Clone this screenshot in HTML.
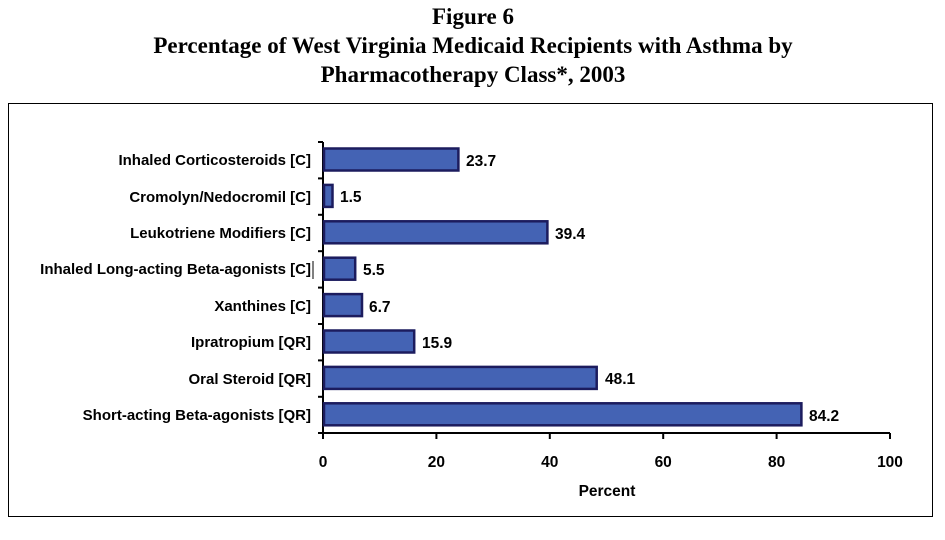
<!DOCTYPE html>
<html><head><style>
body{margin:0;background:#fff;}
</style></head><body>
<svg width="945" height="535" xmlns="http://www.w3.org/2000/svg">
<rect width="945" height="535" fill="#fff"/>
<g font-family="Liberation Serif, serif" font-weight="bold" font-size="23" text-anchor="middle" fill="#000">
<text x="473" y="24">Figure 6</text>
<text x="473" y="53">Percentage of West Virginia Medicaid Recipients with Asthma by</text>
<text x="473" y="82">Pharmacotherapy Class*, 2003</text>
</g>
<rect x="8.5" y="103.5" width="924" height="413" fill="none" stroke="#000" stroke-width="1"/>
<g stroke="#000" stroke-width="2">
<line x1="323" y1="142" x2="323" y2="434"/>
<line x1="322" y1="433" x2="890" y2="433"/>
<line x1="318" y1="142" x2="323" y2="142"/>
<line x1="318" y1="178.4" x2="323" y2="178.4"/>
<line x1="318" y1="214.8" x2="323" y2="214.8"/>
<line x1="318" y1="251.2" x2="323" y2="251.2"/>
<line x1="318" y1="287.6" x2="323" y2="287.6"/>
<line x1="318" y1="324" x2="323" y2="324"/>
<line x1="318" y1="360.4" x2="323" y2="360.4"/>
<line x1="318" y1="396.8" x2="323" y2="396.8"/>
<line x1="318" y1="433" x2="323" y2="433"/>
<line x1="323" y1="433" x2="323" y2="439"/>
<line x1="436.4" y1="433" x2="436.4" y2="439"/>
<line x1="549.8" y1="433" x2="549.8" y2="439"/>
<line x1="663.2" y1="433" x2="663.2" y2="439"/>
<line x1="776.6" y1="433" x2="776.6" y2="439"/>
<line x1="890" y1="433" x2="890" y2="439"/>
</g>
<g fill="#4463b4" stroke="#1c1c5e" stroke-width="2.5">
<rect x="324" y="148.5" width="134.4" height="22"/>
<rect x="324" y="184.9" width="8.5" height="22"/>
<rect x="324" y="221.3" width="223.4" height="22"/>
<rect x="324" y="257.7" width="31.2" height="22"/>
<rect x="324" y="294.1" width="38" height="22"/>
<rect x="324" y="330.5" width="90.2" height="22"/>
<rect x="324" y="366.9" width="272.7" height="22"/>
<rect x="324" y="403.3" width="477.4" height="22"/>
</g>
<g font-family="Liberation Sans, sans-serif" font-weight="bold" font-size="15.5" fill="#000">
<text x="466" y="166">23.7</text>
<text x="340" y="202">1.5</text>
<text x="555" y="239">39.4</text>
<text x="363" y="275">5.5</text>
<text x="369" y="312">6.7</text>
<text x="422" y="348">15.9</text>
<text x="605" y="384">48.1</text>
<text x="809" y="421">84.2</text>
</g>
<g font-family="Liberation Sans, sans-serif" font-weight="bold" font-size="15" fill="#000" text-anchor="end">
<text x="311" y="165">Inhaled Corticosteroids [C]</text>
<text x="311" y="202">Cromolyn/Nedocromil [C]</text>
<text x="311" y="238">Leukotriene Modifiers [C]</text>
<text x="311" y="274">Inhaled Long-acting Beta-agonists [C]</text>
<text x="311" y="311">Xanthines [C]</text>
<text x="311" y="347">Ipratropium [QR]</text>
<text x="311" y="384">Oral Steroid [QR]</text>
<text x="311" y="420">Short-acting Beta-agonists [QR]</text>
</g>
<line x1="313" y1="261" x2="313" y2="279" stroke="#000" stroke-width="1"/>
<g font-family="Liberation Sans, sans-serif" font-weight="bold" font-size="15.5" fill="#000" text-anchor="middle">
<text x="323" y="467">0</text>
<text x="436.4" y="467">20</text>
<text x="549.8" y="467">40</text>
<text x="663.2" y="467">60</text>
<text x="776.6" y="467">80</text>
<text x="890" y="467">100</text>
<text x="607" y="496">Percent</text>
</g>
</svg>
</body></html>
